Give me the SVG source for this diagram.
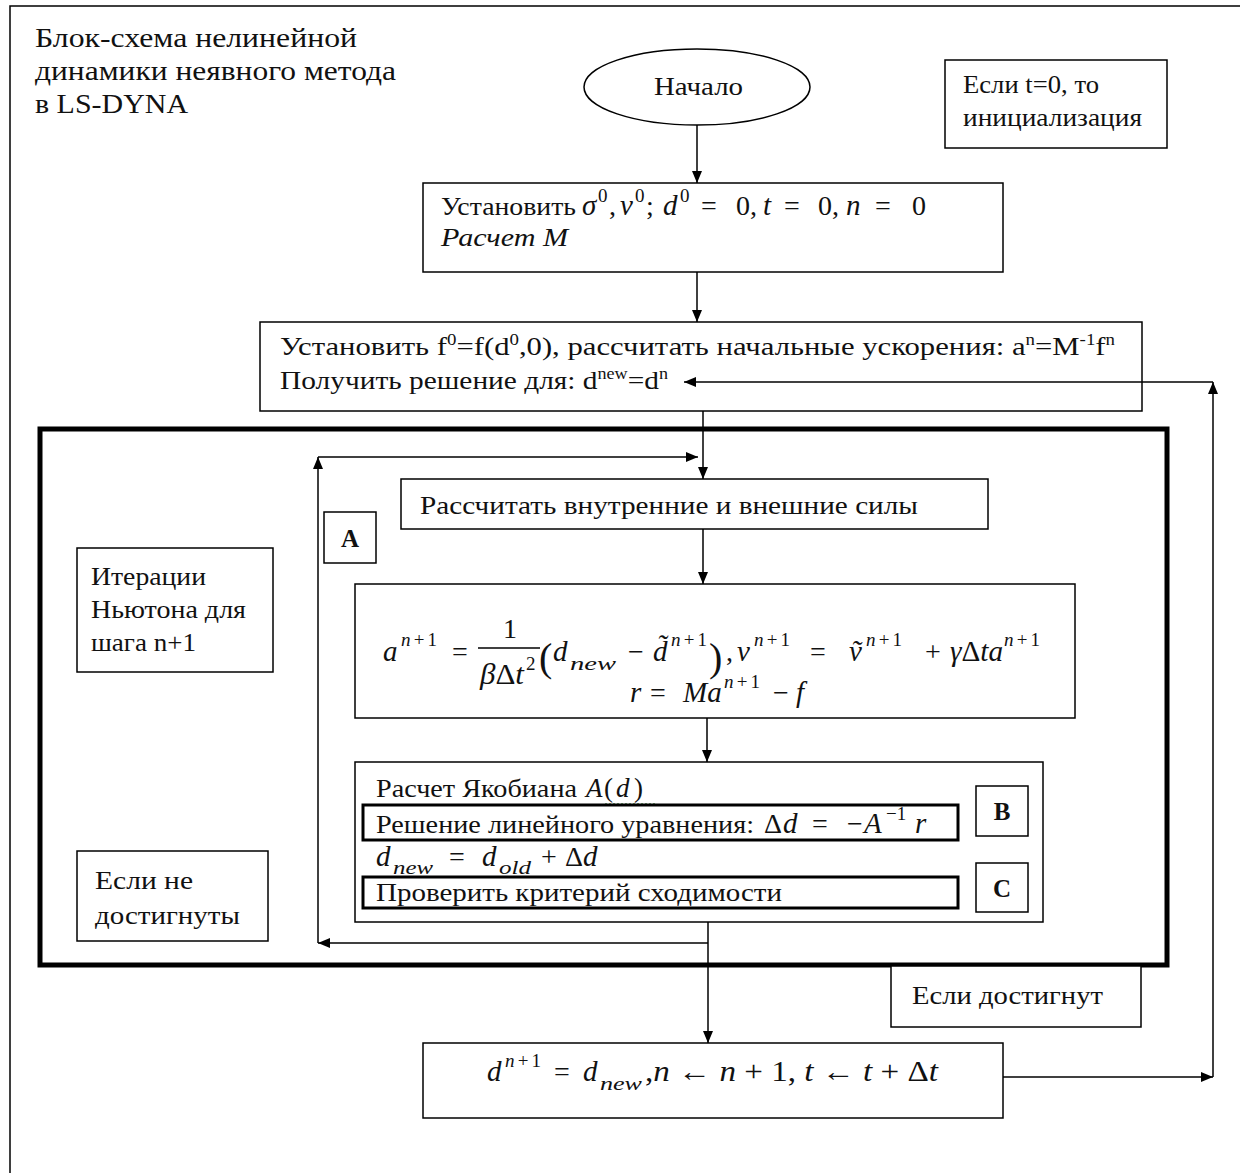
<svg xmlns="http://www.w3.org/2000/svg" width="1240" height="1173" viewBox="0 0 1240 1173">
<defs>
<style>
.bx{fill:#fff;stroke:#000;stroke-width:1.5}
.th{fill:none;stroke:#000;stroke-width:5}
.md{fill:none;stroke:#000;stroke-width:3}
.ln{fill:none;stroke:#000;stroke-width:1.5}
.t{font-family:"Liberation Serif","Times New Roman",serif;font-size:26px;fill:#111}
.ti{font-family:"Liberation Serif","Times New Roman",serif;font-size:28px;fill:#111}
.m{font-family:"Liberation Serif","Times New Roman",serif;font-size:29px;font-style:italic;fill:#111}
.o{font-family:"Liberation Serif","Times New Roman",serif;font-size:28px;fill:#111}
.u{font-style:normal}
.s{font-size:19px}
.p{font-size:40px}
.j{font-size:27px}
.b{font-weight:bold;font-size:25px}
</style>
<marker id="ah" viewBox="0 0 12 10" refX="12" refY="5" markerWidth="12" markerHeight="10" markerUnits="userSpaceOnUse" orient="auto">
<path d="M0,0 L12,5 L0,10 Z" fill="#000"/>
</marker>
</defs>
<rect width="1240" height="1173" fill="#fff"/>
<path class="ln" d="M10,1173 V6 H1240" stroke-width="2"/>

<g id="title">
<text class="ti" x="35" y="47" textLength="322" lengthAdjust="spacingAndGlyphs">Блок-схема нелинейной</text>
<text class="ti" x="35" y="80" textLength="361" lengthAdjust="spacingAndGlyphs">динамики неявного метода</text>
<text class="ti" x="35" y="113" textLength="153" lengthAdjust="spacingAndGlyphs">в LS-DYNA</text>
</g>

<g id="newton-frame">
<rect class="th" x="40" y="429" width="1127" height="536"/>
</g>

<g id="start">
<ellipse class="bx" cx="697" cy="87" rx="113" ry="38"/>
<text class="t" x="654" y="95" textLength="89" lengthAdjust="spacingAndGlyphs">Начало</text>
</g>

<g id="note-init">
<rect class="bx" x="945" y="60" width="222" height="88"/>
<text class="t" x="963" y="93" textLength="136" lengthAdjust="spacingAndGlyphs">Если t=0, то</text>
<text class="t" x="963" y="126" textLength="179" lengthAdjust="spacingAndGlyphs">инициализация</text>
</g>

<g id="init">
<rect class="bx" x="423" y="183" width="580" height="89"/>
<text class="t" x="441" y="215" textLength="135" lengthAdjust="spacingAndGlyphs">Установить</text>
<text class="m" x="582" y="215">σ</text>
<text class="o s" x="598" y="202">0</text>
<text class="o" x="609" y="215">,</text>
<text class="m" x="620" y="215">v</text>
<text class="o s" x="635" y="202">0</text>
<text class="o" x="646" y="215">;</text>
<text class="m" x="663" y="215">d</text>
<text class="o s" x="680" y="202">0</text>
<text class="o" x="701" y="215">=</text>
<text class="o" x="736" y="215">0,</text>
<text class="m" x="763" y="215">t</text>
<text class="o" x="784" y="215">=</text>
<text class="o" x="818" y="215">0,</text>
<text class="m" x="846" y="215">n</text>
<text class="o" x="875" y="215">=</text>
<text class="o" x="912" y="215">0</text>
<text class="m" x="441" y="246" style="font-size:26px" textLength="127" lengthAdjust="spacingAndGlyphs">Расчет M</text>
</g>

<g id="set-force">
<rect class="bx" x="260" y="322" width="882" height="89"/>
<text class="t" x="280" y="355" textLength="835" lengthAdjust="spacingAndGlyphs">Установить f<tspan font-size="16" y="345">0</tspan><tspan y="355">=f(d</tspan><tspan font-size="16" y="345">0</tspan><tspan y="355">,0), рассчитать начальные ускорения: a</tspan><tspan font-size="16" y="345">n</tspan><tspan y="355">=M</tspan><tspan font-size="16" y="345">-1</tspan><tspan y="355">f</tspan><tspan font-size="16" y="345">n</tspan></text>
<text class="t" x="280" y="389" textLength="388" lengthAdjust="spacingAndGlyphs">Получить решение для: d<tspan font-size="16" y="379">new</tspan><tspan y="389">=d</tspan><tspan font-size="16" y="379">n</tspan></text>
</g>

<g id="forces">
<rect class="bx" x="401" y="479" width="587" height="50"/>
<text class="t" x="420" y="514" textLength="498" lengthAdjust="spacingAndGlyphs">Рассчитать внутренние и внешние силы</text>
</g>

<g id="label-a">
<rect class="bx" x="324" y="512" width="52" height="51"/>
<text class="t b" x="350" y="547" text-anchor="middle">A</text>
</g>

<g id="note-iter">
<rect class="bx" x="77" y="548" width="196" height="124"/>
<text class="t" x="91" y="585" textLength="115" lengthAdjust="spacingAndGlyphs">Итерации</text>
<text class="t" x="91" y="618" textLength="155" lengthAdjust="spacingAndGlyphs">Ньютона для</text>
<text class="t" x="91" y="651" textLength="105" lengthAdjust="spacingAndGlyphs">шага n+1</text>
</g>

<g id="accel">
<rect class="bx" x="355" y="584" width="720" height="134"/>
<text class="m" x="383" y="661">a</text>
<text class="m s" x="401" y="646" textLength="36" lengthAdjust="spacing">n<tspan class="u">+1</tspan></text>
<text class="o" x="452" y="661">=</text>
<text class="o" x="503" y="638">1</text>
<line class="ln" x1="478" y1="648" x2="540" y2="648"/>
<text class="m" x="480" y="684" textLength="44" lengthAdjust="spacingAndGlyphs">β<tspan class="u">Δ</tspan>t</text>
<text class="o s" x="526" y="670">2</text>
<text class="o p" x="539" y="671">(</text>
<text class="m" x="553" y="661">d</text>
<text class="m s" x="570" y="670" textLength="46" lengthAdjust="spacingAndGlyphs">new</text>
<text class="o" x="628" y="661">−</text>
<text class="m" x="653" y="661">d̃</text>
<text class="m s" x="671" y="646" textLength="36" lengthAdjust="spacing">n<tspan class="u">+1</tspan></text>
<text class="o p" x="709" y="671">)</text>
<text class="o" x="726" y="661">,</text>
<text class="m" x="737" y="661">v</text>
<text class="m s" x="754" y="646" textLength="36" lengthAdjust="spacing">n<tspan class="u">+1</tspan></text>
<text class="o" x="810" y="661">=</text>
<text class="m" x="849" y="661">ṽ</text>
<text class="m s" x="866" y="646" textLength="36" lengthAdjust="spacing">n<tspan class="u">+1</tspan></text>
<text class="o" x="925" y="661">+</text>
<text class="m" x="950" y="661" textLength="53" lengthAdjust="spacingAndGlyphs">γ<tspan class="u">Δ</tspan>ta</text>
<text class="m s" x="1004" y="646" textLength="36" lengthAdjust="spacing">n<tspan class="u">+1</tspan></text>
<text class="m" x="630" y="702">r</text>
<text class="o" x="650" y="702">=</text>
<text class="m" x="683" y="702">Ma</text>
<text class="m s" x="724" y="688" textLength="36" lengthAdjust="spacing">n<tspan class="u">+1</tspan></text>
<text class="o" x="773" y="702">−</text>
<text class="m" x="796" y="702">f</text>
</g>

<g id="jacobian">
<rect class="bx" x="355" y="762" width="688" height="160"/>
<text class="t" x="376" y="797" textLength="201" lengthAdjust="spacingAndGlyphs">Расчет Якобиана</text>
<text class="m j" x="586" y="797">A</text>
<text class="o j" x="604" y="797">(</text>
<text class="m j" x="616" y="797">d</text>
<text class="o j" x="634" y="797">)</text>
<line x1="605" y1="804" x2="655" y2="804" stroke="#5a9a5a" stroke-width="1.5" stroke-dasharray="2,2"/>
<rect class="md" x="363" y="805" width="595" height="35"/>
<text class="t" x="376" y="833" textLength="378" lengthAdjust="spacingAndGlyphs">Решение линейного уравнения:</text>
<text class="o" x="764" y="833">Δ</text>
<text class="m" x="783" y="833">d</text>
<text class="o" x="812" y="833">=</text>
<text class="o" x="847" y="833">−</text>
<text class="m" x="864" y="833">A</text>
<text class="o s" x="886" y="820">−1</text>
<text class="m" x="915" y="833">r</text>
<text class="m" x="376" y="866">d</text>
<text class="m s" x="393" y="874" textLength="40" lengthAdjust="spacingAndGlyphs">new</text>
<text class="o" x="449" y="866">=</text>
<text class="m" x="482" y="866">d</text>
<text class="m s" x="499" y="874" textLength="32" lengthAdjust="spacingAndGlyphs">old</text>
<text class="o" x="541" y="866">+</text>
<text class="o" x="565" y="866">Δ</text>
<text class="m" x="583" y="866">d</text>
<rect class="md" x="363" y="877" width="595" height="31"/>
<text class="t" x="376" y="901" textLength="406" lengthAdjust="spacingAndGlyphs">Проверить критерий сходимости</text>
</g>

<g id="label-b">
<rect class="bx" x="976" y="786" width="52" height="50"/>
<text class="t b" x="1002" y="820" text-anchor="middle">B</text>
</g>

<g id="label-c">
<rect class="bx" x="976" y="863" width="52" height="49"/>
<text class="t b" x="1002" y="897" text-anchor="middle">C</text>
</g>

<g id="note-notreached">
<rect class="bx" x="77" y="851" width="191" height="90"/>
<text class="t" x="95" y="889" textLength="98" lengthAdjust="spacingAndGlyphs">Если не</text>
<text class="t" x="95" y="924" textLength="145" lengthAdjust="spacingAndGlyphs">достигнуты</text>
</g>

<g id="note-reached">
<rect class="bx" x="891" y="966" width="250" height="61"/>
<text class="t" x="912" y="1004" textLength="191" lengthAdjust="spacingAndGlyphs">Если достигнут</text>
</g>

<g id="update">
<rect class="bx" x="423" y="1043" width="580" height="75"/>
<text class="m" x="487" y="1081">d</text>
<text class="m s" x="505" y="1067" textLength="36" lengthAdjust="spacing">n<tspan class="u">+1</tspan></text>
<text class="o" x="554" y="1081">=</text>
<text class="m" x="583" y="1081">d</text>
<text class="m s" x="600" y="1090" textLength="42" lengthAdjust="spacingAndGlyphs">new</text>
<text class="m" x="645" y="1081" textLength="293" lengthAdjust="spacingAndGlyphs"><tspan class="u">,</tspan>n <tspan class="u">←</tspan> n <tspan class="u">+ 1,</tspan> t <tspan class="u">←</tspan> t <tspan class="u">+ Δ</tspan>t</text>
</g>

<g id="connectors">
<path class="ln" d="M697,125 V183" marker-end="url(#ah)"/>
<path class="ln" d="M697,272 V322" marker-end="url(#ah)"/>
<path class="ln" d="M703,411 V479" marker-end="url(#ah)"/>
<path class="ln" d="M703,529 V584" marker-end="url(#ah)"/>
<path class="ln" d="M707,718 V762" marker-end="url(#ah)"/>
<path class="ln" d="M708,922 V1043" marker-end="url(#ah)"/>
<path class="ln" d="M708,943 H318" marker-end="url(#ah)"/>
<path class="ln" d="M318,943 V457" marker-end="url(#ah)"/>
<path class="ln" d="M318,457 H698" marker-end="url(#ah)"/>
<path class="ln" d="M1003,1077 H1213" marker-end="url(#ah)"/>
<path class="ln" d="M1213,1077 V382" marker-end="url(#ah)"/>
<path class="ln" d="M1213,382 H684" marker-end="url(#ah)"/>
</g>
</svg>
